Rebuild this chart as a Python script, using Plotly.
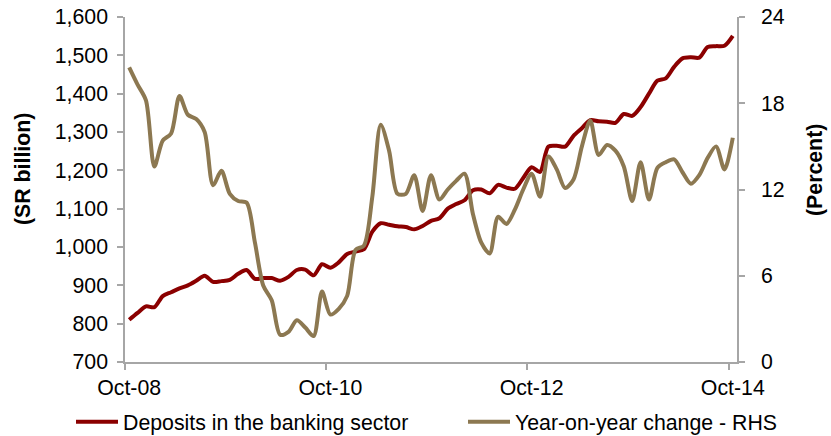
import plotly.graph_objects as go

# Monthly observations, Oct-08 through Oct-14 (73 months)
month_index = list(range(73))

# Deposits in the banking sector (SR billion)
deposits = [
    810, 828, 845, 843, 872, 882, 892, 900, 912, 925,
    909, 911, 914, 930, 940, 917, 919, 919, 912, 922,
    940, 941, 926, 955, 946, 960, 982, 988, 994, 1040,
    1062, 1058, 1054, 1052, 1046, 1055, 1068, 1075, 1100, 1112,
    1122, 1148, 1150, 1140, 1162, 1155, 1152, 1180, 1208, 1196,
    1262, 1264, 1262, 1290, 1310, 1331, 1328, 1327, 1324, 1347,
    1342, 1365, 1400, 1434, 1440, 1470, 1492, 1495, 1494, 1522,
    1524, 1525, 1551,
]

# Year-on-year change (percent, right-hand scale)
yoy_change = [
    20.5, 19.3, 18.2, 13.6, 15.4, 15.9, 18.5, 17.2, 16.9, 16.0,
    12.3, 13.3, 11.7, 11.2, 11.1, 8.3, 5.3, 4.3, 1.9, 2.1,
    2.9, 2.4, 1.8, 4.9, 3.3, 3.7, 4.6, 7.8, 8.1, 11.5,
    16.5, 14.7, 11.7, 11.7, 13.0, 10.5, 13.0, 11.3, 12.0, 12.6,
    13.1, 10.3, 8.3, 7.55, 10.1, 9.6, 10.6, 12.0, 13.1, 11.5,
    14.3, 13.4, 12.1, 12.7, 15.0, 16.8, 14.4, 15.1, 14.7, 13.6,
    11.2, 13.9, 11.3, 13.5, 13.9, 14.1, 13.2, 12.4, 13.0, 14.2,
    15.0, 13.4, 15.6,
]

tick_positions = [0, 24, 48, 72]
tick_labels = ["Oct-08", "Oct-10", "Oct-12", "Oct-14"]

RED = "#8B0000"
TAN = "#8C7851"
AXIS = "#A6A6A6"
FONT = "Liberation Sans, Arial, sans-serif"
FS = 21.3

W, H = 831, 436
ML, MR, MT, MB = 125, 94, 17, 74

fig = go.Figure()

fig.add_trace(go.Scatter(
    x=month_index, y=deposits, mode="lines",
    name="Deposits in the banking sector",
    line=dict(color=RED, width=4, shape="spline", smoothing=0.8),
    yaxis="y", legend="legend", showlegend=True,
))

fig.add_trace(go.Scatter(
    x=month_index, y=yoy_change, mode="lines",
    name="Year-on-year change - RHS",
    line=dict(color=TAN, width=4, shape="spline", smoothing=0.8),
    yaxis="y2", legend="legend2", showlegend=True,
))

legend_common = dict(
    orientation="h", xref="container", yref="container",
    xanchor="left", yanchor="middle", y=1 - 422 / H,
    bgcolor="rgba(0,0,0,0)", font=dict(size=FS), itemwidth=42,
)

fig.update_layout(
    width=W, height=H,
    margin=dict(l=ML, r=MR, t=MT, b=MB, autoexpand=False),
    showlegend=True,
    paper_bgcolor="white", plot_bgcolor="white",
    font=dict(family=FONT, size=FS, color="#000000"),
    xaxis=dict(
        range=[-0.5, 72.5],
        tickmode="array", tickvals=tick_positions, ticktext=tick_labels,
        ticks="outside", ticklen=6, tickcolor="rgba(0,0,0,0)",
        ticklabelstandoff=0,
        minor=dict(tickmode="array", tickvals=[p - 0.5 for p in tick_positions],
                   ticks="outside", ticklen=6, tickwidth=1.5, tickcolor=AXIS),
        showline=True, linecolor=AXIS, linewidth=1.5,
        showgrid=False, zeroline=False,
    ),
    yaxis=dict(
        range=[700, 1600], dtick=100, tick0=700, tickformat=",d",
        ticks="outside", ticklen=6, tickwidth=1.5, tickcolor=AXIS,
        ticklabelstandoff=5,
        showline=True, linecolor=AXIS, linewidth=1.5,
        showgrid=False, zeroline=False,
    ),
    yaxis2=dict(
        range=[0, 24], dtick=6, tick0=0,
        overlaying="y", side="right",
        ticks="outside", ticklen=6, tickwidth=1.5, tickcolor=AXIS,
        ticklabelstandoff=12,
        showline=True, linecolor=AXIS, linewidth=1.5,
        showgrid=False, zeroline=False,
    ),
    legend=dict(legend_common, x=71 / W),
    legend2=dict(legend_common, x=463 / W),
    annotations=[
        dict(text="<b>(SR billion)</b>", textangle=-90, showarrow=False,
             xref="paper", yref="paper",
             x=(23 - ML) / (W - ML - MR), y=(H - MB - 169) / (H - MT - MB),
             xanchor="center", yanchor="middle", font=dict(size=FS)),
        dict(text="<b>(Percent)</b>", textangle=-90, showarrow=False,
             xref="paper", yref="paper",
             x=(815 - ML) / (W - ML - MR), y=(H - MB - 170) / (H - MT - MB),
             xanchor="center", yanchor="middle", font=dict(size=FS)),
    ],
)

fig.write_html("out.html")
